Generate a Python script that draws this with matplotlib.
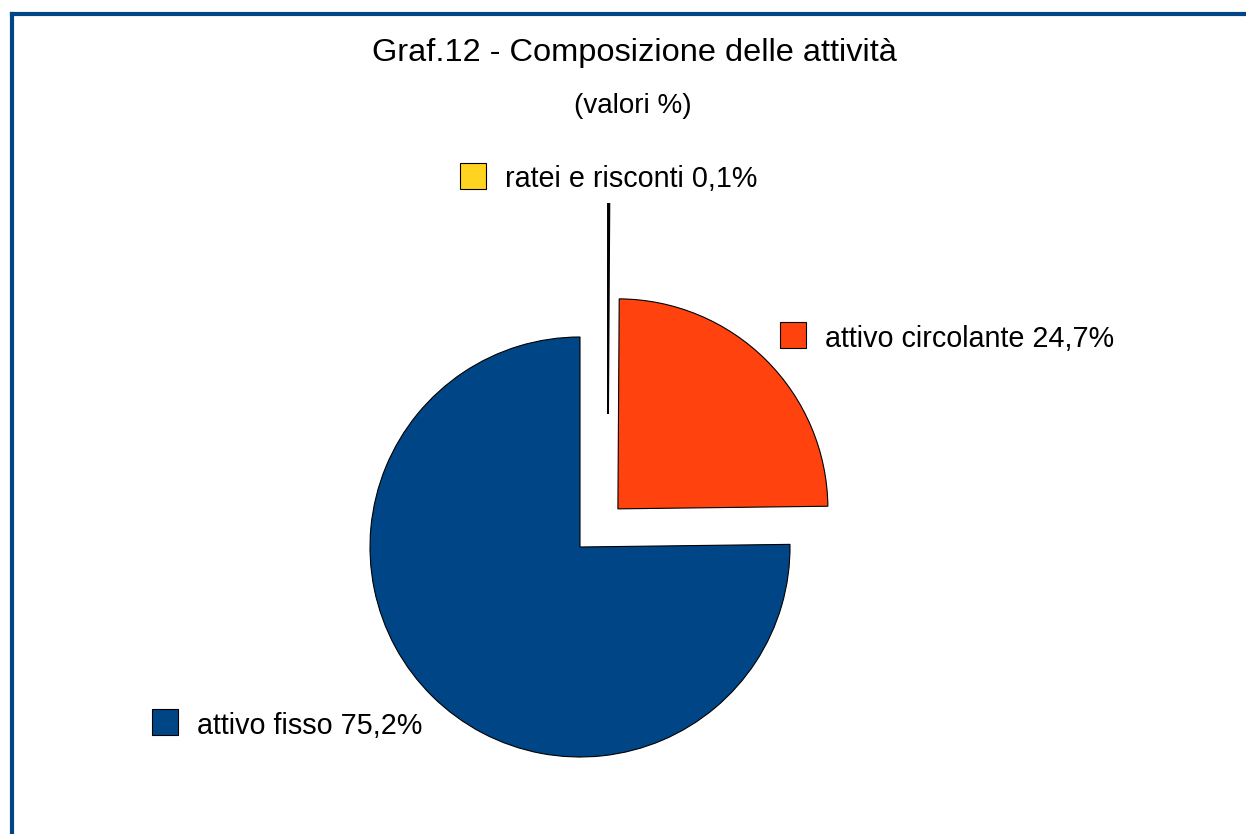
import matplotlib
matplotlib.use('Agg')
import matplotlib.pyplot as plt
from matplotlib.patches import Rectangle
from matplotlib.lines import Line2D

# ---- data ----
title = "Graf.12 - Composizione delle attività"
subtitle = "(valori %)"
categories = ['attivo fisso', 'attivo circolante', 'ratei e risconti']
values = [75.2, 24.7, 0.1]
value_labels = ['75,2%', '24,7%', '0,1%']
colors = ['#004586', '#ff420e', '#ffd320']

plt.rcParams['font.family'] = ['Liberation Sans', 'DejaVu Sans']

W, H = 1246, 834
CX, CY, R = 580, 547, 210  # pie centre and radius in pixels

fig = plt.figure(figsize=(W / 100, H / 100), dpi=100)
fig.patch.set_facecolor('white')
ax = fig.add_axes([0, 0, 1, 1])


def px(x, y):
    """pixel (from top-left) -> data coords"""
    return (x - CX) / R, (CY - y) / R


wedges, _ = ax.pie(values, colors=colors, startangle=90, counterclock=True,
                   explode=[0, 0.256, 0], radius=1,
                   wedgeprops=dict(edgecolor='black', linewidth=0.8))
# the tiny slice is pulled out upward (as in the original rendering)
wedges[2].set_center((28 / R, 133 / R))
wedges[2].set_linewidth(1.4)

ax.set_aspect('auto')
ax.set_xlim(-CX / R, (W - CX) / R)
ax.set_ylim(-(H - CY) / R, CY / R)
ax.axis('off')

# title
x, y = px(634, 61)
ax.text(x, y, title, ha='center', va='baseline', fontsize=23.4, color='black')
x, y = px(633, 113)
ax.text(x, y, subtitle, ha='center', va='baseline', fontsize=20, color='black')

# labels with colour keys: (square left, square top, text left, baseline)
label_pos = [(152, 709, 197, 734), (780, 322, 825, 347), (460, 163, 505, 187)]
sq = 26 / R
for cat, val, col, (sx, sy, tx, ty) in zip(categories, value_labels, colors, label_pos):
    x0, y0 = px(sx, sy + 26)
    ax.add_patch(Rectangle((x0, y0), sq, sq, facecolor=col, edgecolor='black',
                           linewidth=0.8))
    x, y = px(tx, ty)
    ax.text(x, y, f"{cat} {val}", ha='left', va='baseline', fontsize=20.7,
            color='black')

# frame (dark blue border, top and left visible)
bc = '#004586'
fig.add_artist(Line2D([12 / W, 12 / W], [0, 1 - 14 / H], transform=fig.transFigure,
                      color=bc, linewidth=3, solid_capstyle='projecting'))
fig.add_artist(Line2D([12 / W, 1], [1 - 14 / H, 1 - 14 / H], transform=fig.transFigure,
                      color=bc, linewidth=3, solid_capstyle='projecting'))

fig.savefig('out.png', dpi=100, facecolor='white')
